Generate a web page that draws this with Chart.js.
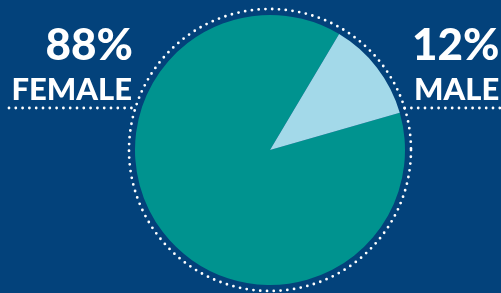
<!DOCTYPE html>
<html>
<head>
<meta charset="utf-8">
<script src="https://cdn.jsdelivr.net/npm/chart.js@4"></script>
<style>
  html, body { margin: 0; padding: 0; background: #03427b; }
  #wrap { width: 501px; height: 293px; position: relative; }
</style>
</head>
<body>
<div id="wrap"><canvas id="c" width="501" height="293"></canvas></div>
<script>
const categories = ["FEMALE", "MALE"];
const shares = [88, 12];
const shareLabels = ["88%", "12%"];
const sliceColors = ["#00938f", "#a3d9e9"];

const decor = {
  id: 'decor',
  beforeDraw(chart) {
    const ctx = chart.ctx;
    ctx.save();
    ctx.fillStyle = '#03427b';
    ctx.fillRect(0, 0, chart.width, chart.height);
    ctx.restore();
  },
  afterDraw(chart) {
    const ctx = chart.ctx;
    const arc = chart.getDatasetMeta(0).data[0];
    const cx = arc.x, cy = arc.y, R = arc.outerRadius + 6;
    ctx.save();
    ctx.strokeStyle = '#ffffff';
    ctx.lineWidth = 2.8;
    ctx.lineCap = 'round';
    ctx.setLineDash([0, 6.8]);
    ctx.beginPath();
    ctx.arc(cx, cy, R, 0, Math.PI * 2);
    ctx.stroke();
    const ly = 108;
    const dx = Math.sqrt(R * R - (cy - ly) * (cy - ly));
    ctx.beginPath();
    ctx.moveTo(9, ly);
    ctx.lineTo(cx - dx, ly);
    ctx.stroke();
    ctx.beginPath();
    ctx.moveTo(cx + dx, ly);
    ctx.lineTo(chart.width, ly);
    ctx.stroke();
    ctx.setLineDash([]);

    ctx.fillStyle = '#ffffff';
    ctx.textBaseline = 'alphabetic';
    ctx.font = '900 44px Lato, "DejaVu Sans", sans-serif';
    ctx.textAlign = 'right';
    ctx.fillText(shareLabels[0], 133, 60);
    ctx.textAlign = 'left';
    ctx.fillText(shareLabels[1], 412, 60);
    ctx.font = '900 31px Lato, "DejaVu Sans", sans-serif';
    ctx.textAlign = 'right';
    ctx.fillText(categories[0], 132, 100);
    ctx.textAlign = 'left';
    ctx.fillText(categories[1], 414, 100);
    ctx.restore();
  }
};

new Chart(document.getElementById('c'), {
  type: 'pie',
  data: {
    labels: categories,
    datasets: [{
      data: shares,
      backgroundColor: sliceColors,
      borderWidth: 0
    }]
  },
  options: {
    responsive: false,
    animation: false,
    rotation: 74,
    layout: { padding: { left: 135, right: 96, top: 15, bottom: 8 } },
    plugins: { legend: { display: false }, tooltip: { enabled: false } }
  },
  plugins: [decor]
});
</script>
</body>
</html>
